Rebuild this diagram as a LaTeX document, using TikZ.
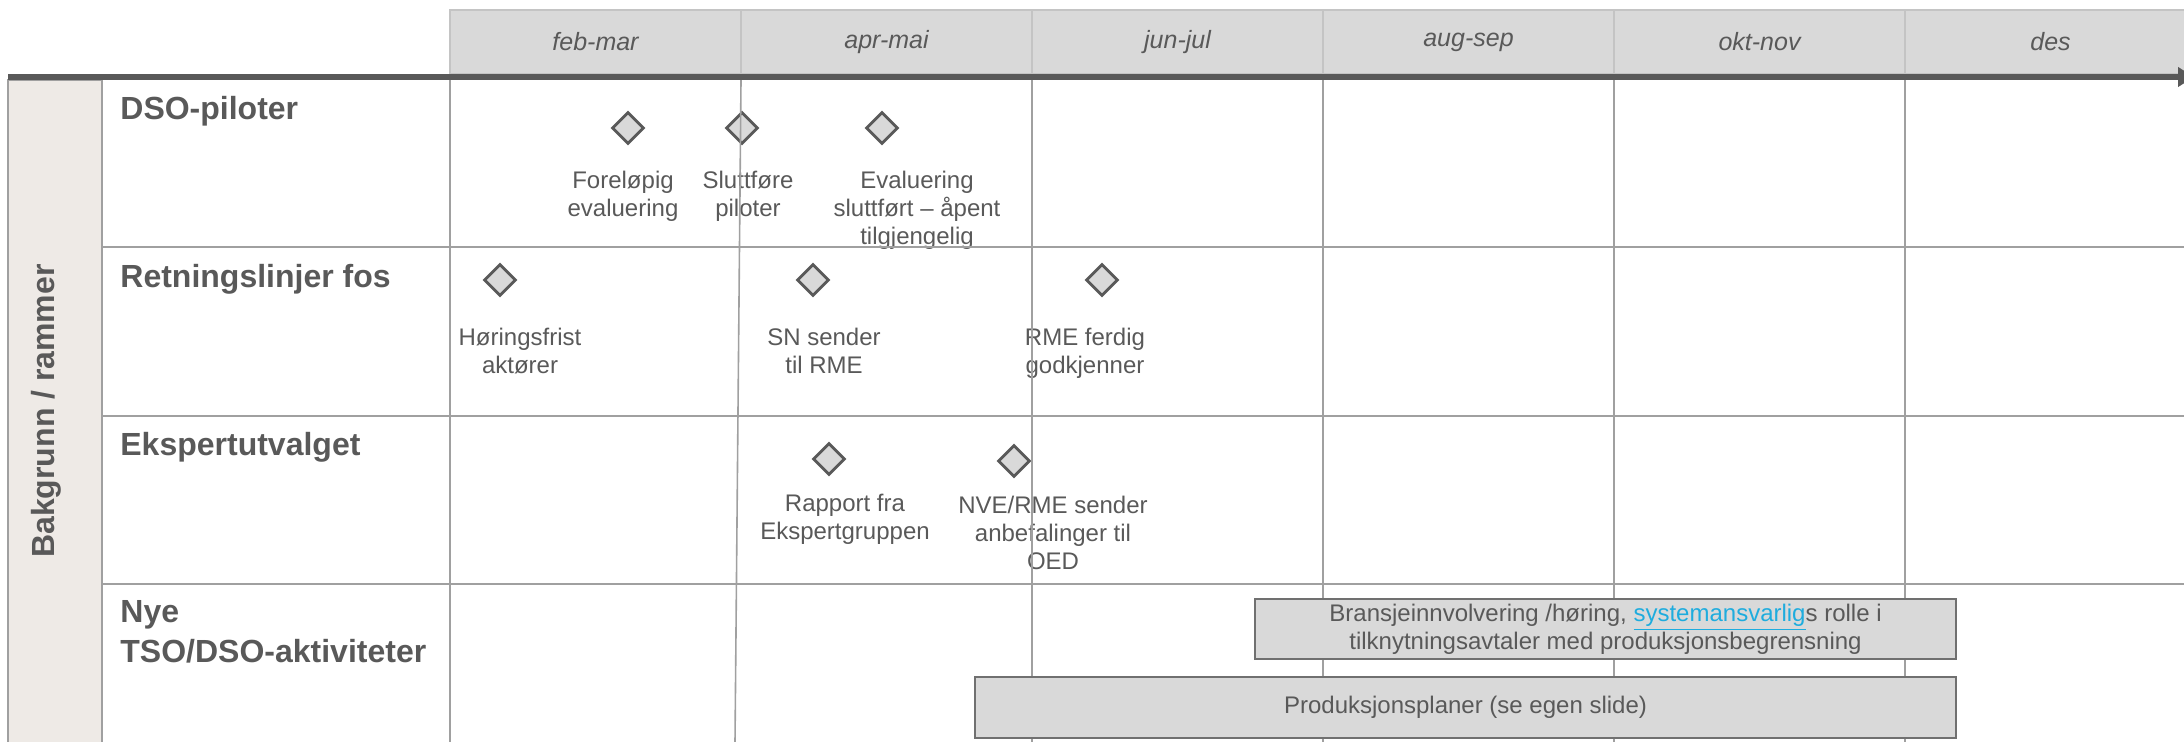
\documentclass[tikz,border=0pt]{standalone}
\usepackage{fontspec}
\setmainfont{Liberation Sans}
\usetikzlibrary{arrows.meta,positioning,shapes.geometric}
\definecolor{txtcol}{RGB}{89,89,89}
\definecolor{hdrfill}{RGB}{217,217,217}
\definecolor{hdrline}{RGB}{196,196,196}
\definecolor{gridcol}{RGB}{160,160,160}
\definecolor{bandcol}{RGB}{238,234,230}
\definecolor{mscol}{RGB}{217,217,217}
\definecolor{msline}{RGB}{89,89,89}
\definecolor{barfill}{RGB}{217,217,217}
\definecolor{barline}{RGB}{112,112,112}
\definecolor{axiscol}{RGB}{89,89,89}
\definecolor{linkcol}{RGB}{30,172,222}

\begin{document}
\begin{tikzpicture}[
  x=0.5pt, y=-0.5pt,
  month/.style={
    draw=hdrline, line width=0.6pt, fill=hdrfill,
    minimum width=145.5pt, minimum height=32pt, inner sep=0pt,
    font=\fontsize{12.5}{15}\selectfont\itshape, text=txtcol
  },
  milestone/.style={
    diamond, draw=msline, fill=mscol, line width=1.4pt,
    minimum width=16pt, minimum height=16pt, inner sep=0pt
  },
  note/.style={font=\fontsize{12}{14}\selectfont, text=txtcol, align=center, inner sep=0pt, anchor=north},
  rowlabel/.style={font=\fontsize{16}{20}\selectfont\bfseries, text=txtcol, align=left, inner sep=0pt, anchor=north west},
  bar/.style={
    draw=barline, line width=0.8pt, fill=barfill, inner sep=0pt,
    font=\fontsize{12}{14}\selectfont, text=txtcol, align=center
  },
  grid/.style={draw=gridcol, line width=0.8pt},
  rowsep/.style={draw=gridcol, line width=1.4pt},
  axis/.style={draw=axiscol, line width=3pt, -{Triangle[length=8pt,width=9.5pt]}}
]
\clip (0,0) rectangle (2184,742);

%% ===================== Header: months =====================
\node[month] (m1) at ( 595.5,42) {feb-mar};
\node[month] (m2) at ( 886.5,42) {apr-mai};
\node[month] (m3) at (1177.5,42) {jun-jul};
\node[month] (m4) at (1468.5,42) {aug-sep};
\node[month] (m5) at (1759.5,42) {okt-nov};
\node[month] (m6) at (2050.5,42) {des};

%% ===================== Left band and row labels ===========
\draw[draw=gridcol, line width=0.75pt, fill=bandcol] (8,80) rectangle (102,760);
\node[font=\fontsize{16}{20}\selectfont\bfseries, text=txtcol, rotate=90] (band) at (46,411) {Bakgrunn / rammer};

\node[rowlabel] (r1) at (120, 96) {DSO-piloter};
\node[rowlabel] (r2) at (120,264) {Retningslinjer fos};
\node[rowlabel] (r3) at (120,432) {Ekspertutvalget};
\node[rowlabel] (r4) at (120,600) {Nye\\TSO/DSO-aktiviteter};

%% ===================== Milestones =========================
% DSO-piloter
\node[milestone] (p1) at (628,128) {};
\node[milestone] (p2) at (742,128) {};
\node[milestone] (p3) at (882,128) {};
\node[note] (p1t) at (623,171) {Foreløpig\\evaluering};
\node[note] (p2t) at (748,171) {Sluttføre\\piloter};
\node[note] (p3t) at (917,171) {Evaluering\\sluttført – åpent\\tilgjengelig};
% Retningslinjer fos
\node[milestone] (f1) at ( 500,280) {};
\node[milestone] (f2) at ( 813,280) {};
\node[milestone] (f3) at (1102,280) {};
\node[note] (f1t) at ( 520,328) {Høringsfrist\\aktører};
\node[note] (f2t) at ( 824,328) {SN sender\\til RME};
\node[note] (f3t) at (1085,328) {RME ferdig\\godkjenner};
% Ekspertutvalget
\node[milestone] (e1) at ( 829,459) {};
\node[milestone] (e2) at (1014,461) {};
\node[note] (e1t) at ( 845,494) {Rapport fra\\Ekspertgruppen};
\node[note] (e2t) at (1053,496) {NVE/RME sender\\anbefalinger til\\OED};

%% ===================== Grid ===============================
\draw[grid] (102,80) -- (102,742);
\draw[grid] (450,80) -- (450,742);
\draw[grid] (741,80) -- (735,742);
\draw[grid] (1032,80) -- (1032,742);
\draw[grid] (1323,80) -- (1323,742);
\draw[grid] (1614,80) -- (1614,742);
\draw[grid] (1905,80) -- (1905,742);
\draw[rowsep] (102,247) -- (2184,247);
\draw[rowsep] (102,416) -- (2184,416);
\draw[rowsep] (102,584) -- (2184,584);

%% ===================== Time axis ==========================
\coordinate (t0) at (8,77);
\coordinate (t1) at (2194,77);
\draw[axis] (t0) -- (t1);

%% ===================== Activity bars ======================
\node[bar, minimum width=350.5pt, minimum height=30pt] (b1) at (1605.5,629)
  {Bransjeinnvolvering /høring, {\color{linkcol}\underline{systemansvarlig}}s rolle i\\tilknytningsavtaler med produksjonsbegrensning};
\node[bar, minimum width=490.5pt, minimum height=30.5pt] (b2) at (1465.5,707.5)
  {Produksjonsplaner (se egen slide)};

\end{tikzpicture}
\end{document}
